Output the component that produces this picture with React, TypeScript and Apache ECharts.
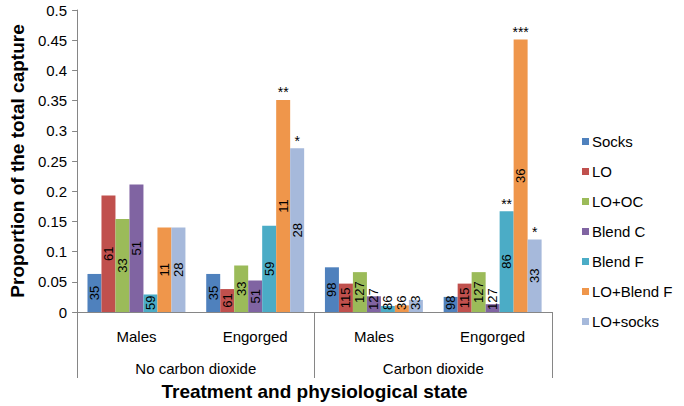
import React, { useEffect, useRef } from "react";
import * as echarts from "echarts";

const categories = ["Males", "Engorged", "Males", "Engorged"];
const groups = ["No carbon dioxide", "Carbon dioxide"];
const seriesNames = ["Socks", "LO", "LO+OC", "Blend C", "Blend F", "LO+Blend F", "LO+socks"];
const colors = ["#4F81BD", "#C0504D", "#9BBB59", "#8064A2", "#4BACC6", "#EF964B", "#A6B9DB"];

const socks = [0.063, 0.063, 0.074, 0.025];
const lo = [0.193, 0.038, 0.047, 0.047];
const loOc = [0.154, 0.077, 0.066, 0.066];
const blendC = [0.211, 0.052, 0.026, 0.013];
const blendF = [0.029, 0.143, 0.01, 0.167];
const loBlendF = [0.14, 0.351, 0.011, 0.451];
const loSocks = [0.14, 0.271, 0.02, 0.12];

const nSocks = [35, 35, 98, 98];
const nLo = [61, 61, 115, 115];
const nLoOc = [33, 33, 127, 127];
const nBlendC = [51, 51, 127, 127];
const nBlendF = [59, 59, 86, 86];
const nLoBlendF = [11, 11, 36, 36];
const nLoSocks = [28, 28, 33, 33];

const starsSocks = ["", "", "", ""];
const starsLo = ["", "", "", ""];
const starsLoOc = ["", "", "", ""];
const starsBlendC = ["", "", "", ""];
const starsBlendF = ["", "", "", "**"];
const starsLoBlendF = ["", "**", "", "***"];
const starsLoSocks = ["", "*", "", "*"];

const yTicks = { min: 0, max: 0.5, interval: 0.05 };

const FONT = "'Liberation Sans', Arial, sans-serif";

export default function App() {
  const ref = useRef<HTMLDivElement>(null);
  useEffect(() => {
    if (!ref.current) return;
    const chart = echarts.init(ref.current, null, { renderer: "svg" });
    const values = [socks, lo, loOc, blendC, blendF, loBlendF, loSocks];
    const counts = [nSocks, nLo, nLoOc, nBlendC, nBlendF, nLoBlendF, nLoSocks];
    const stars = [starsSocks, starsLo, starsLoOc, starsBlendC, starsBlendF, starsLoBlendF, starsLoSocks];

    const series = seriesNames.map((name, si) => {
      const data = values[si].map((v, ci) => {
        const item: any = { value: v };
        if (v < 0.035) {
          item.label = { position: "insideBottom", align: "left", verticalAlign: "middle", distance: 2 };
        }
        return item;
      });
      const mp = stars[si]
        .map((s, ci) => (s ? { name: s, coord: [ci, values[si][ci]] } : null))
        .filter(Boolean);
      return {
        name,
        type: "bar",
        data,
        barGap: "0%",
        barCategoryGap: "17.5%",
        itemStyle: { color: colors[si] },
        label: {
          show: true,
          position: "inside",
          rotate: 90,
          color: "#000",
          fontSize: 13,
          fontFamily: FONT,
          formatter: (p: any) => String(counts[si][p.dataIndex]),
        },
        markPoint: mp.length
          ? {
              symbol: "rect",
              symbolSize: 1,
              itemStyle: { color: "transparent" },
              label: {
                show: true,
                position: "top",
                distance: 0,
                color: "#000",
                fontSize: 14,
                fontFamily: FONT,
                formatter: "{b}",
              },
              data: mp,
            }
          : undefined,
      };
    });

    chart.setOption({
      animation: false,
      backgroundColor: "#fff",
      grid: { left: 72, right: 132, top: 10, bottom: 90 },
      legend: {
        orient: "vertical",
        left: 582,
        top: 134,
        padding: 0,
        itemWidth: 7,
        itemHeight: 7,
        itemGap: 15,
        icon: "rect",
        textStyle: { fontSize: 15, fontFamily: FONT, color: "#000", padding: [0, 0, 0, -2] },
        data: seriesNames,
      },
      xAxis: [
        {
          type: "category",
          data: categories,
          position: "bottom",
          axisLine: { show: true, lineStyle: { color: "#868686" } },
          axisTick: { show: false },
          axisLabel: { margin: 17, fontSize: 15, fontFamily: FONT, color: "#000" },
        },
        {
          type: "category",
          data: groups,
          position: "bottom",
          axisLine: { show: false },
          axisTick: { show: true, length: 66, interval: 0, lineStyle: { color: "#868686" } },
          axisLabel: { margin: 49, fontSize: 15, fontFamily: FONT, color: "#000" },
          name: "Treatment and physiological state",
          nameLocation: "middle",
          nameGap: 70,
          nameTextStyle: { fontSize: 19, fontWeight: "bold", fontFamily: FONT, color: "#000" },
        },
      ],
      yAxis: {
        type: "value",
        min: yTicks.min,
        max: yTicks.max,
        interval: yTicks.interval,
        axisLine: { show: true, lineStyle: { color: "#868686" } },
        axisTick: { show: true, length: 5, lineStyle: { color: "#868686" } },
        splitLine: { show: false },
        axisLabel: { margin: 10, fontSize: 15, fontFamily: FONT, color: "#000" },
        name: "Proportion of the total capture",
        nameLocation: "middle",
        nameGap: 50,
        nameTextStyle: { fontSize: 19, fontWeight: "bold", fontFamily: FONT, color: "#000" },
      },
      series,
    });
    return () => chart.dispose();
  }, []);
  return (
    <div
      ref={ref}
      style={{ position: "fixed", left: 0, top: 0, width: 684, height: 406 }}
    />
  );
}
